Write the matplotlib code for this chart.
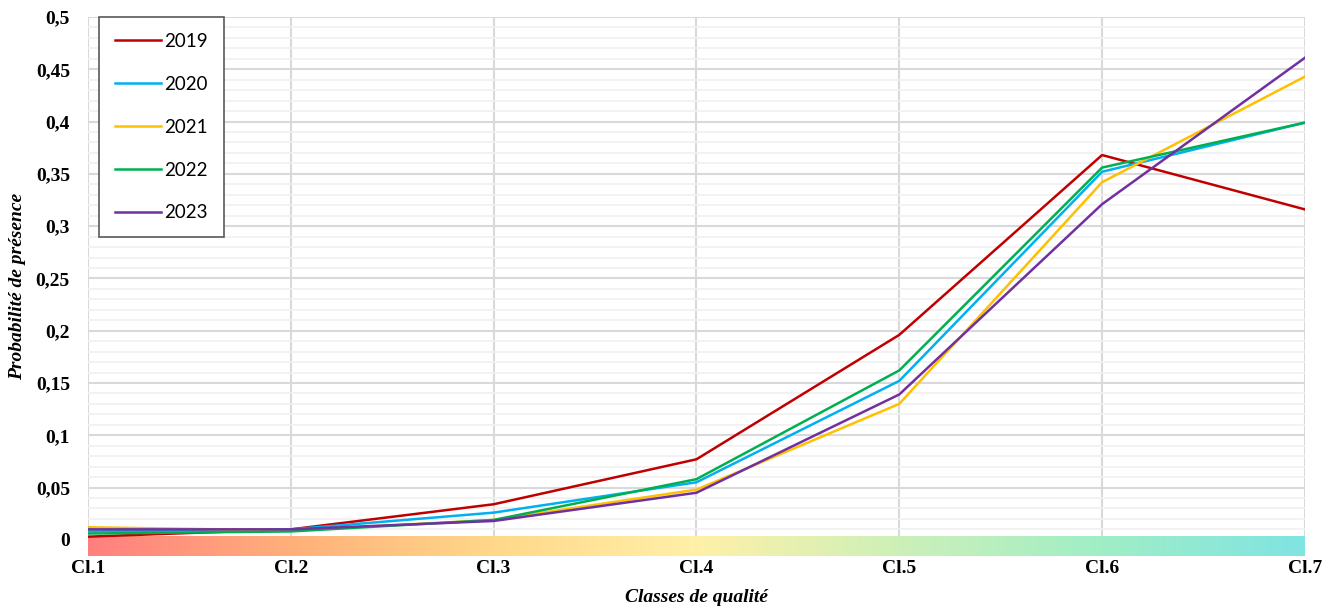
import numpy as np
import matplotlib.pyplot as plt
from matplotlib.colors import LinearSegmentedColormap
from matplotlib.ticker import MultipleLocator, FuncFormatter

classes = ["Cl.1", "Cl.2", "Cl.3", "Cl.4", "Cl.5", "Cl.6", "Cl.7"]
years = ["2019", "2020", "2021", "2022", "2023"]

p2019 = [0.003, 0.010, 0.034, 0.077, 0.196, 0.368, 0.316]
p2020 = [0.008, 0.010, 0.026, 0.055, 0.152, 0.352, 0.399]
p2021 = [0.012, 0.009, 0.019, 0.048, 0.130, 0.342, 0.443]
p2022 = [0.006, 0.008, 0.019, 0.058, 0.162, 0.356, 0.399]
p2023 = [0.010, 0.010, 0.018, 0.045, 0.139, 0.321, 0.461]

series = [p2019, p2020, p2021, p2022, p2023]
colors = ["#C00000", "#00B0F0", "#FFC000", "#00B050", "#7030A0"]

# quality scale colours, from worst class to best
band_colors = ["#FF7F7F", "#FFB07A", "#FFD88A", "#FFF0A8", "#CDF0B8", "#A0EEC6", "#80E4E2"]

fig = plt.figure(figsize=(13.37, 6.10), dpi=100)
ax = fig.add_axes([0.0658, 0.0885, 0.9102, 0.8836])

x = np.arange(len(classes))
ymin, ymax = -0.0155, 0.5

# colour band under the zero line
cmap = LinearSegmentedColormap.from_list("quality", band_colors)
grad = np.linspace(0, 1, 512).reshape(1, -1)
ax.imshow(grad, cmap=cmap, aspect="auto", extent=(x[0], x[-1], ymin, 0.003),
          zorder=1, interpolation="bilinear")

for vals, col, yr in zip(series, colors, years):
    ax.plot(x, vals, color=col, lw=1.8, label=yr, zorder=3)

ax.set_xlim(x[0], x[-1])
ax.set_ylim(ymin, ymax)
ax.set_xticks(x)
ax.set_xticklabels(classes)
ax.yaxis.set_major_locator(MultipleLocator(0.05))
ax.yaxis.set_minor_locator(MultipleLocator(0.01))

def fr_fmt(v, pos):
    s = f"{v:.2f}".rstrip("0").rstrip(".")
    return s.replace(".", ",")

ax.yaxis.set_major_formatter(FuncFormatter(fr_fmt))

ax.grid(True, which="major", axis="y", color="#D9D9D9", lw=1.5, zorder=0)
ax.grid(True, which="minor", axis="y", color="#F0F0F0", lw=1.2, zorder=0)
ax.grid(True, which="major", axis="x", color="#D9D9D9", lw=1.5, zorder=0)
ax.set_axisbelow(True)
for sp in ax.spines.values():
    sp.set_visible(False)
ax.tick_params(which="both", length=0)
ax.tick_params(axis="x", pad=3)
ax.tick_params(axis="y", pad=13)

serif = "Liberation Serif"
for lab in ax.get_xticklabels() + ax.get_yticklabels():
    lab.set_fontfamily(serif)
    lab.set_fontsize(14)
    lab.set_fontweight("bold")

ax.set_xlabel("Classes de qualité", family=serif, style="italic",
              weight="bold", fontsize=14)
ax.set_ylabel("Probabilité de présence", family=serif, style="italic",
              weight="bold", fontsize=14)
ax.xaxis.set_label_coords(0.5, -0.062)
ax.yaxis.set_label_coords(-0.051, 0.5)

leg = ax.legend(loc="upper left", bbox_to_anchor=(0.009, 1.0), fancybox=False,
                framealpha=1, edgecolor="#595959", prop=dict(family="Lato", size=13.5),
                handlelength=2.45, handletextpad=0.2, labelspacing=1.38,
                borderpad=0.85, borderaxespad=0)
leg.get_frame().set_linewidth(1.2)
leg.set_zorder(5)

fig.savefig("out.png", dpi=100)
